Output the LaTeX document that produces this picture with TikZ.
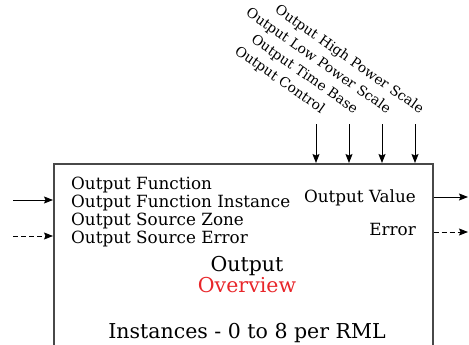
\documentclass[tikz,border=0pt]{standalone}
\usepackage{fontspec}
\setmainfont{DejaVu Serif}
\usetikzlibrary{arrows.meta,positioning}
\definecolor{BoxGray}{HTML}{484848}
\definecolor{NoteRed}{HTML}{E8262A}
\tikzset{
  blk/.style={rectangle,draw=BoxGray,line width=1.5pt,anchor=north west,
              minimum width=379pt,minimum height=220pt,inner sep=0pt},
  arr/.style={-{Stealth[length=9pt,width=7pt,inset=1.5pt]},line width=0.9pt},
  darr/.style={arr,dash pattern=on 5pt off 3pt},
  sig/.style={font=\fontsize{16.8}{18}\selectfont,inner sep=0pt},
  ttl/.style={font=\fontsize{20.5}{22}\selectfont,inner sep=0pt},
  lbl/.style={font=\fontsize{13.8}{16}\selectfont,inner sep=0pt,
              rotate=-35,anchor=base east}
}
\begin{document}
\begin{tikzpicture}[x=1pt,y=-1pt]
  \useasboundingbox (0,0) rectangle (469,345);
  \clip (0,0) rectangle (469,345);
  \node[blk] (ovw) at (53,163) {};

  % inputs listed in the block
  \node[sig,anchor=base west] (fn) at (71,189) {Output Function};
  \node[sig,below=18.2pt of fn.base west,anchor=base west] (fni) {Output Function Instance};
  \node[sig,below=18.2pt of fni.base west,anchor=base west] (srz) {Output Source Zone};
  \node[sig,below=18.2pt of srz.base west,anchor=base west] (sre) {Output Source Error};

  % outputs
  \node[sig,anchor=base east] (val) at (416,202) {Output Value};
  \node[sig,below=33pt of val.base east,anchor=base east] (err) {Error};

  % block title
  \node[ttl,anchor=base] (name) at (247,271) {Output};
  \node[ttl,text=NoteRed,below=21pt of name.base,anchor=base] (note) {Overview};
  \node[ttl,anchor=base] (inst) at (247,338) {Instances - 0 to 8 per RML};

  % side connectors
  \coordinate (fnIn) at (13,200);
  \coordinate (errIn) at (13,236);
  \coordinate (valOut) at (468,197);
  \coordinate (errOut) at (468,232);
  \draw[arr](fnIn)--(fnIn -| ovw.west);
  \draw[darr](errIn)--(errIn -| ovw.west);
  \draw[arr](valOut -| ovw.east)--(valOut);
  \draw[darr](errOut -| ovw.east)--(errOut);

  % top connectors
  \coordinate (ctl) at (316,124);
  \coordinate (tbs) at (349,124);
  \coordinate (lps) at (382,124);
  \coordinate (hps) at (415,124);
  \draw[arr](ctl)--(ctl |- ovw.north);
  \draw[arr](tbs)--(tbs |- ovw.north);
  \draw[arr](lps)--(lps |- ovw.north);
  \draw[arr](hps)--(hps |- ovw.north);
  \node[lbl] (ctlTxt) at ([xshift=5pt,yshift=10pt]ctl) {Output Control};
  \node[lbl] (tbsTxt) at ([xshift=5pt,yshift=10pt]tbs) {Output Time Base};
  \node[lbl] (lpsTxt) at ([xshift=5pt,yshift=10pt]lps) {Output Low Power Scale};
  \node[lbl] (hpsTxt) at ([xshift=5pt,yshift=10pt]hps) {Output High Power Scale};
\end{tikzpicture}
\end{document}
